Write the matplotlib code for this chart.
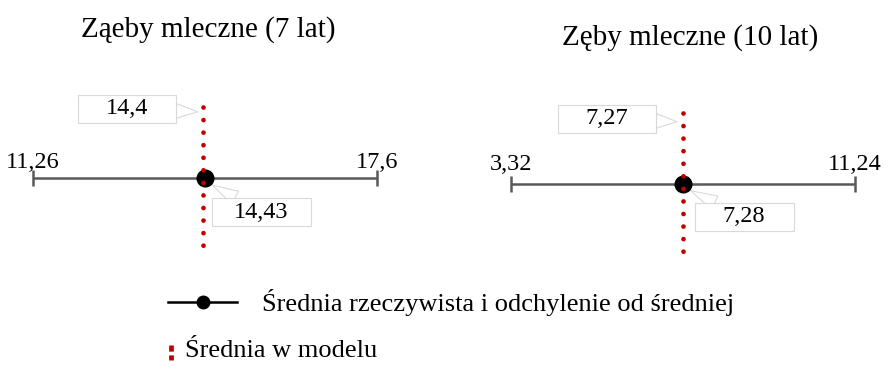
import matplotlib.pyplot as plt
from matplotlib.path import Path
from matplotlib.lines import Line2D

plt.rcParams['font.family'] = ['Liberation Serif', 'DejaVu Serif']

# data
titles = ["Ząeby mleczne (7 lat)", "Zęby mleczne (10 lat)"]
lows = [11.26, 3.32]
highs = [17.6, 11.24]
actual_means = [14.43, 7.28]
model_means = [14.4, 7.27]
legend_labels = ["Średnia rzeczywista i odchylenie od średniej", "Średnia w modelu"]

W, H = 889, 371
GRAY = '#595959'
RED = '#c00000'
BOX_EC = '#d9d9d9'

# layout in pixels (from top-left)
layout = [
    dict(ax=(0, 444), px=(33, 377), line_y=178, red=(107, 250), title=(208, 30),
         lab_y=162, top=(127, 109), top_y=112, bot=(261, 212)),
    dict(ax=(444, 889), px=(511, 855), line_y=184, red=(113, 256), title=(690, 38),
         lab_y=165, top=(607, 119), top_y=122, bot=(744, 217)),
]


def fmt(v):
    return f"{v:g}".replace(".", ",")


def box_of(width_px, height_px):
    def style(x0, y0, width, height, mutation_size):
        cx = x0 + width / 2
        cy = y0 + height / 2
        w, h = width_px / 2, height_px / 2
        return Path([(cx - w, cy - h), (cx + w, cy - h), (cx + w, cy + h),
                     (cx - w, cy + h), (cx - w, cy - h)], closed=True)
    return style


fig = plt.figure(figsize=(W / 100, H / 100), dpi=100)

for i, L in enumerate(layout):
    x0, x1 = L['ax']
    p0, p1 = L['px']
    ax = fig.add_axes([x0 / W, 0, (x1 - x0) / W, 1])
    scale = (p1 - p0) / (highs[i] - lows[i])
    ax.set_xlim(lows[i] - (p0 - x0) / scale, highs[i] + (x1 - p1) / scale)
    ax.set_ylim(H, 0)
    ax.axis('off')

    y = L['line_y']
    ax.errorbar([actual_means[i]], [y],
                xerr=[[actual_means[i] - lows[i]], [highs[i] - actual_means[i]]],
                fmt='o', color='black', markersize=12, ecolor=GRAY,
                elinewidth=1.8, capsize=6, capthick=1.8, zorder=3)
    ax.plot([model_means[i], model_means[i]], L['red'], color=RED, lw=3.4,
            linestyle=(0, (0.01, 2.65)), dash_capstyle='round', zorder=4)

    ax.text(lows[i], L['lab_y'], fmt(lows[i]), ha='center', va='center', fontsize=17.5)
    ax.text(highs[i], L['lab_y'], fmt(highs[i]), ha='center', va='center', fontsize=17.5)
    fig.text(L['title'][0] / W, 1 - L['title'][1] / H, titles[i],
             ha='center', va='center', fontsize=21)

    ax.annotate(fmt(model_means[i]), xy=(model_means[i], L['top_y']),
                xytext=(L['top'][0], H - L['top'][1]), textcoords='figure pixels',
                ha='center', va='center', fontsize=17.5,
                bbox=dict(boxstyle=box_of(98, 28), fc='white', ec=BOX_EC, lw=0.8),
                arrowprops=dict(arrowstyle='wedge,tail_width=0.6,shrink_factor=0.5',
                                fc='white', ec=BOX_EC, lw=0.8, shrinkA=0, shrinkB=4),
                zorder=5)
    ax.annotate(fmt(actual_means[i]), xy=(actual_means[i], y + 3),
                xytext=(L['bot'][0], H - L['bot'][1]), textcoords='figure pixels',
                ha='center', va='center', fontsize=17.5,
                bbox=dict(boxstyle=box_of(99, 28), fc='white', ec=BOX_EC, lw=0.8),
                arrowprops=dict(arrowstyle='wedge,tail_width=0.6,shrink_factor=0.5',
                                fc='white', ec=BOX_EC, lw=0.8, shrinkA=0, shrinkB=6),
                zorder=2)

# legend drawn by hand
fig.add_artist(Line2D([168 / W, 237 / W], [1 - 302 / H, 1 - 302 / H], color='black',
                      lw=1.8, transform=fig.transFigure))
fig.add_artist(Line2D([203 / W], [1 - 302 / H], color='black', marker='o',
                      markersize=9, transform=fig.transFigure))
fig.text(262 / W, 1 - 302 / H, legend_labels[0], ha='left', va='center', fontsize=19)
fig.add_artist(Line2D([171 / W, 171 / W], [1 - 345 / H, 1 - 360 / H], color=RED,
                      lw=3.4, linestyle=(0, (1.3, 0.8)), transform=fig.transFigure))
fig.text(185 / W, 1 - 351 / H, legend_labels[1], ha='left', va='center', fontsize=19)

fig.savefig('out.png', dpi=100)
